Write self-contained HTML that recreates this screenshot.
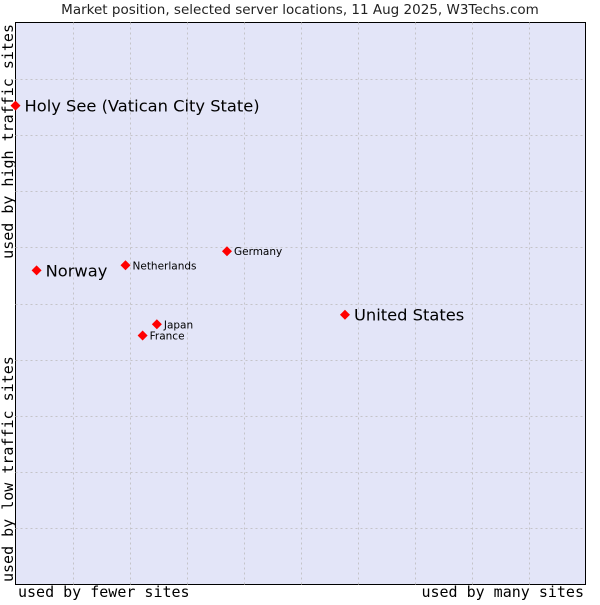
<!DOCTYPE html>
<html><head><meta charset="utf-8"><style>
body{margin:0;background:#fff;width:600px;height:600px;overflow:hidden}
</style></head><body>
<svg id="chart" width="600" height="600" xmlns="http://www.w3.org/2000/svg">
<text x="300" y="14" text-anchor="middle" font-family="DejaVu Sans, sans-serif" font-size="13.5" fill="#222">Market position, selected server locations, 11 Aug 2025, W3Techs.com</text>
<rect x="15.5" y="22.5" width="570" height="562" fill="#e3e5f8" stroke="#000"/>
<g id="grid"></g>
<g id="points"></g>
<text x="18" y="597" font-family="DejaVu Sans Mono, monospace" font-size="15" fill="#000">used by fewer sites</text>
<text x="584" y="597" text-anchor="end" font-family="DejaVu Sans Mono, monospace" font-size="15" fill="#000">used by many sites</text>
<text transform="translate(13,582) rotate(-90)" font-family="DejaVu Sans Mono, monospace" font-size="15" fill="#000">used by low traffic sites</text>
<text transform="translate(13,24) rotate(-90)" text-anchor="end" font-family="DejaVu Sans Mono, monospace" font-size="15" fill="#000">used by high traffic sites</text>
</svg>
<script>
const names = ["Holy See (Vatican City State)","Norway","Netherlands","Germany","United States","Japan","France"];
const xValues = [0, 3.7, 19.3, 37.1, 57.8, 24.8, 22.3];
const yValues = [85.2, 55.9, 56.8, 59.3, 48.0, 46.3, 44.3];
const bigLabel = [true, true, false, false, true, false, false];
const gridSteps = [1,2,3,4,5,6,7,8,9];

const L=15.5,R=585.5,T=22.5,B=584.5;
function sx(v){return L+(R-L)*v/100;}
function sy(v){return B-(B-T)*v/100;}
const NS="http://www.w3.org/2000/svg";
const grid=document.getElementById('grid');
gridSteps.forEach(s=>{
  const gx=Math.round(sx(s*10))+0.5, gy=Math.round(sy(s*10))+0.5;
  const v=document.createElementNS(NS,'line');
  v.setAttribute('x1',gx);v.setAttribute('x2',gx);v.setAttribute('y1',T);v.setAttribute('y2',B);
  v.setAttribute('stroke','#c4c4c8');v.setAttribute('stroke-dasharray','2,3');
  
  
  grid.appendChild(v);
  const h=document.createElementNS(NS,'line');
  h.setAttribute('y1',gy);h.setAttribute('y2',gy);h.setAttribute('x1',L);h.setAttribute('x2',R);
  h.setAttribute('stroke','#c4c4c8');h.setAttribute('stroke-dasharray','2,3');
  
  
  grid.appendChild(h);
});
const pts=document.getElementById('points');
names.forEach((n,i)=>{
  const x=sx(xValues[i]), y=sy(yValues[i]);
  const d=document.createElementNS(NS,'polygon');
  d.setAttribute('points',`${x},${y-5} ${x+5},${y} ${x},${y+5} ${x-5},${y}`);
  d.setAttribute('fill','#f00');
  
  
  pts.appendChild(d);
  const t=document.createElementNS(NS,'text');
  t.setAttribute('x',x+(bigLabel[i]?9:7));
  t.setAttribute('y',y+(bigLabel[i]?6:4));
  t.setAttribute('font-family','DejaVu Sans, sans-serif');
  t.setAttribute('font-size',bigLabel[i]?'16.3':'10.5');
  t.setAttribute('fill','#000');
  t.textContent=n;
  
  
  pts.appendChild(t);
});
</script>
</body></html>
